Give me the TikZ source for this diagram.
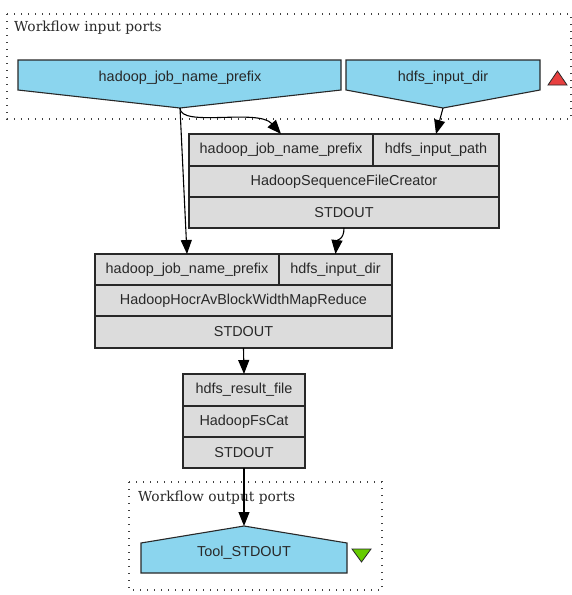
\documentclass[tikz,border=0pt]{standalone}
\usepackage{fontspec}
\setmainfont{Liberation Sans}
\newfontfamily\clusterfont{DejaVu Serif}
\usetikzlibrary{arrows.meta}

\definecolor{portblue}{RGB}{139,213,238}
\definecolor{boxgrey}{RGB}{220,220,220}
\definecolor{inred}{RGB}{232,64,64}
\definecolor{outgreen}{RGB}{102,204,0}
\definecolor{inkgrey}{RGB}{40,40,40}

\begin{document}
\begin{tikzpicture}[x=1pt,y=-1pt,
  cell/.style={draw=inkgrey, fill=boxgrey, line width=1.1pt, anchor=north west,
    inner sep=0pt, outer sep=0pt, font=\fontsize{14.4}{17}\selectfont, text=inkgrey},
  portshape/.style={draw=inkgrey, fill=portblue, line width=1.1pt},
  portlabel/.style={inner sep=0pt, font=\fontsize{14.4}{17}\selectfont, text=inkgrey},
  cluster/.style={draw=black!75, line width=1.3pt, dash pattern=on 1.3pt off 5.7pt},
  clusterlabel/.style={anchor=base west, inner sep=0pt,
    font=\clusterfont\fontsize{13.8}{16}\selectfont, text=inkgrey},
  flow/.style={draw=black, line width=1.1pt, -{Triangle[length=14pt,width=11pt]}},
]
\useasboundingbox (0,0) rectangle (572,595);

% clusters
\draw[cluster] (7,14) rectangle (571,119);
\node[clusterlabel] (inlbl) at (14,31) {Workflow input ports};
\draw[cluster] (129,482) rectangle (382,590);
\node[clusterlabel] (outlbl) at (138,501) {Workflow output ports};

% workflow input ports
\draw[portshape] (18,60) -- (341,60) -- (341,90) -- (180,108) -- (18,90) -- cycle;
\coordinate (in1tip) at (180,108);
\node[portlabel] (in1) at (180,78) {hadoop\_job\_name\_prefix};
\draw[portshape] (346,60) -- (540,60) -- (540,90) -- (443,108) -- (346,90) -- cycle;
\coordinate (in2tip) at (443,108);
\node[portlabel] (in2) at (443,78) {hdfs\_input\_dir};
\draw[draw=inkgrey, fill=inred, line width=0.8pt] (548,85) -- (567,85) -- (557.5,71) -- cycle;

% workflow output port
\draw[portshape] (141,573) -- (347,573) -- (347,543) -- (244,526) -- (141,543) -- cycle;
\coordinate (outtip) at (244,526);
\node[portlabel] (out1) at (244,553) {Tool\_STDOUT};
\draw[draw=inkgrey, fill=outgreen, line width=0.8pt] (352,549) -- (371,549) -- (361.5,562) -- cycle;

% HadoopSequenceFileCreator
\node[cell, minimum width=184pt, minimum height=32pt] (sfcA) at (189,134) {hadoop\_job\_name\_prefix};
\node[cell, minimum width=126pt, minimum height=32pt] (sfcB) at (373,134) {hdfs\_input\_path};
\node[cell, minimum width=310pt, minimum height=31pt] (sfc) at (189,166) {HadoopSequenceFileCreator};
\node[cell, minimum width=310pt, minimum height=31pt] (sfcOut) at (189,197) {STDOUT};

% HadoopHocrAvBlockWidthMapReduce
\node[cell, minimum width=184pt, minimum height=31pt] (mrA) at (95,254) {hadoop\_job\_name\_prefix};
\node[cell, minimum width=113pt, minimum height=31pt] (mrB) at (279,254) {hdfs\_input\_dir};
\node[cell, minimum width=297pt, minimum height=31pt] (mr) at (95,285) {HadoopHocrAvBlockWidthMapReduce};
\node[cell, minimum width=297pt, minimum height=32pt] (mrOut) at (95,316) {STDOUT};

% HadoopFsCat
\node[cell, minimum width=122pt, minimum height=32pt] (catA) at (183,374) {hdfs\_result\_file};
\node[cell, minimum width=122pt, minimum height=31pt] (cat) at (183,406) {HadoopFsCat};
\node[cell, minimum width=122pt, minimum height=31pt] (catOut) at (183,437) {STDOUT};

% data links
\draw[flow] (in1tip) .. controls (180,128) and (258,108) .. (sfcA.north);
\draw[flow] (in2tip) -- (sfcB.north);
\draw[flow] (in1tip) -- (mrA.north);
\draw[flow] (sfcOut.south) .. controls (344,240) and (337,240) .. (mrB.north);
\draw[flow] (mrOut.south) -- (catA.north);
\draw[flow] (catOut.south) -- (outtip);
\end{tikzpicture}
\end{document}
